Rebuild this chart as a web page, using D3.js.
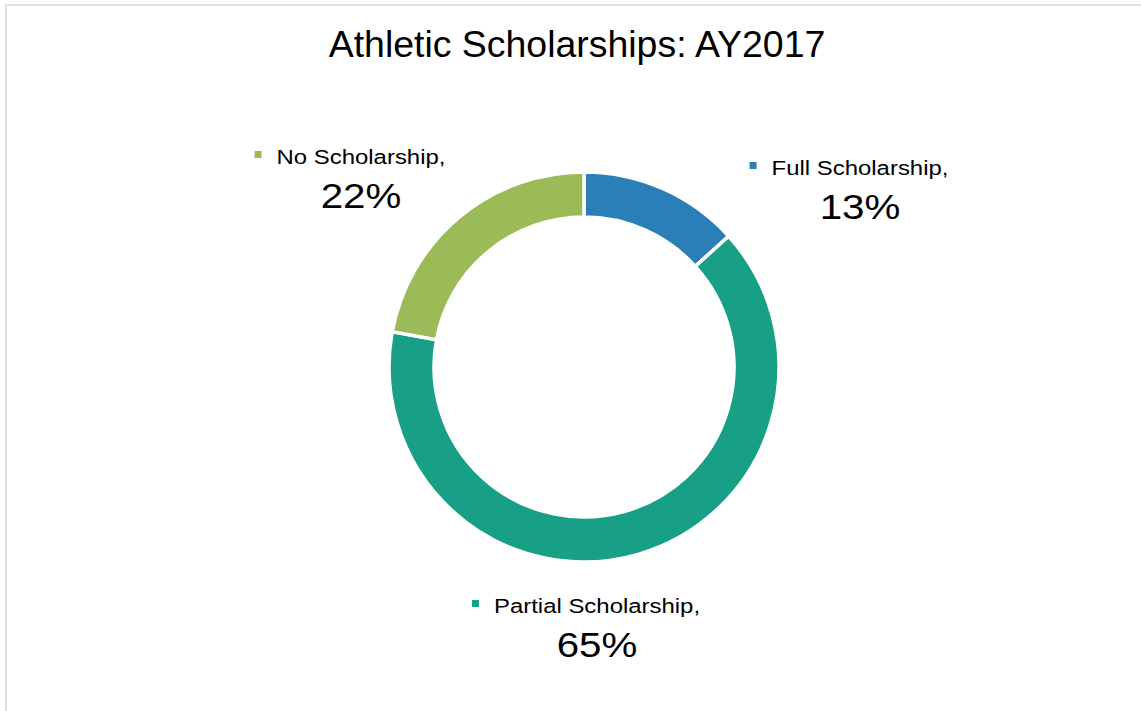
<!DOCTYPE html>
<html>
<head>
<meta charset="utf-8">
<script src="https://cdn.jsdelivr.net/npm/d3@7"></script>
<style>
  html, body { margin: 0; padding: 0; background: #fff; }
  text { font-family: "Liberation Sans", Arial, sans-serif; fill: #000; }
</style>
</head>
<body>
<div id="chart"></div>
<script>
// data (slice shares in %)
var categories = ['Full Scholarship', 'Partial Scholarship', 'No Scholarship'];
var shares = [13.3, 64.6, 22.1];
var colors = ['#2a7fb8', '#17a086', '#9bbb59'];

var width = 1141,
    height = 711,
    cx = 584,
    cy = 367,
    outerR = 195,
    innerR = 150;

// where each data label sits (center of the name line, baseline of name line)
var labelPos = [
  {x: 860, y: 175},
  {x: 597, y: 613},
  {x: 361, y: 164}
];

var svg = d3.select('#chart').append('svg')
    .attr('width', width)
    .attr('height', height);

// the source text is drawn a bit wider than the font, so stretch it horizontally
function stretchText(parent, x, y, size, sx, str) {
  var t = parent.append('g')
      .attr('transform', 'translate(' + x + ',' + y + ') scale(' + sx + ',1)')
    .append('text')
      .attr('text-anchor', 'middle')
      .style('font-size', size + 'px')
      .text(str);
  return t.node().getComputedTextLength() * sx;
}

// light frame, only left & top edges show inside the window
svg.append('rect')
    .attr('x', 6).attr('y', 5)
    .attr('width', width + 20).attr('height', height + 20)
    .attr('fill', 'none')
    .attr('stroke', '#dde1ea')
    .attr('stroke-width', 2);

stretchText(svg, 577, 57, 36, 1.04, 'Athletic Scholarships: AY2017');

var data = categories.map(function(c, i) { return {name: c, value: shares[i], color: colors[i]}; });

var pie = d3.pie().sort(null).value(function(d) { return d.value; });
var arc = d3.arc().innerRadius(innerR).outerRadius(outerR);

var g = svg.append('g').attr('transform', 'translate(' + cx + ',' + cy + ')');
g.selectAll('path')
  .data(pie(data))
  .enter().append('path')
    .attr('d', arc)
    .attr('fill', function(d) { return d.data.color; })
    .attr('stroke', '#fff')
    .attr('stroke-width', 3.5)
    .attr('stroke-linejoin', 'miter');

var total = d3.sum(shares);

data.forEach(function(d, i) {
  var p = labelPos[i];
  var lg = svg.append('g');
  var w = stretchText(lg, p.x, p.y, 21, 1.14, d.name + ',');
  lg.append('rect')
      .attr('x', p.x - w / 2 - 22)
      .attr('y', p.y - 13)
      .attr('width', 7).attr('height', 7)
      .attr('fill', d.color);
  stretchText(lg, p.x, p.y + 44, 36, 1.12, Math.round(d.value / total * 100) + '%');
});
</script>
</body>
</html>
